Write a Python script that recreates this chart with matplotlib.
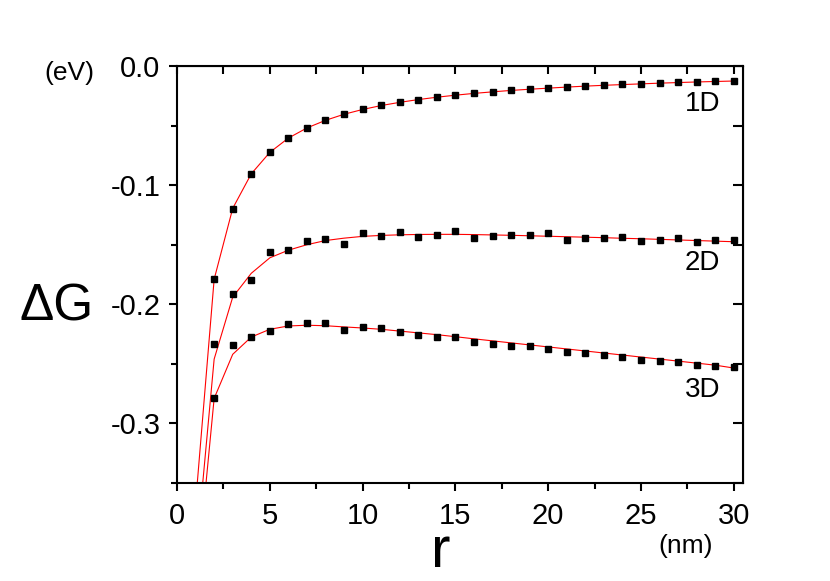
import matplotlib
matplotlib.use('Agg')
import matplotlib.pyplot as plt
from matplotlib.ticker import MultipleLocator, FormatStrFormatter

plt.rcParams['font.family'] = ['Liberation Sans', 'DejaVu Sans']
plt.rcParams['axes.unicode_minus'] = False

# data points (r = 2..30 nm)
r_pts = list(range(2, 31))
g1d_pts = [-0.179, -0.1204, -0.0905, -0.0723, -0.0602, -0.0518, -0.0454, -0.0403, -0.0364,
           -0.0331, -0.0305, -0.0283, -0.0261, -0.0244, -0.0230, -0.0216, -0.0204, -0.0196,
           -0.0185, -0.0176, -0.0168, -0.0160, -0.0154, -0.0149, -0.0143, -0.0137, -0.0132,
           -0.0129, -0.0126]
g2d_pts = [-0.233, -0.191, -0.1795, -0.156, -0.1546, -0.1465, -0.1454, -0.149, -0.140,
           -0.1431, -0.1392, -0.1434, -0.1415, -0.1387, -0.1445, -0.1431, -0.1417, -0.142,
           -0.1398, -0.1457, -0.1443, -0.1443, -0.1434, -0.1473, -0.146, -0.1445, -0.1479,
           -0.1457, -0.146]
g3d_pts = [-0.279, -0.2342, -0.2277, -0.2221, -0.2165, -0.216, -0.216, -0.2213, -0.2193,
           -0.2202, -0.2235, -0.226, -0.2272, -0.2272, -0.2319, -0.2333, -0.235, -0.235,
           -0.2378, -0.2403, -0.2409, -0.2426, -0.244, -0.2465, -0.2476, -0.2487, -0.2507,
           -0.2518, -0.2529]

# fitted curves (r = 1..30 nm)
r_fit = list(range(1, 31))
g1d_fit = [-0.367, -0.179, -0.1195, -0.0905, -0.0725, -0.0605, -0.052, -0.0456, -0.0405,
           -0.0365, -0.0332, -0.0305, -0.0282, -0.0262, -0.0245, -0.0230, -0.0217, -0.0205,
           -0.0195, -0.0186, -0.0177, -0.0169, -0.0162, -0.0156, -0.0150, -0.0144, -0.0139,
           -0.0134, -0.0130, -0.0126]
g2d_fit = [-0.415, -0.246, -0.194, -0.174, -0.161, -0.1546, -0.150, -0.1465, -0.1445,
           -0.143, -0.1422, -0.1417, -0.1414, -0.1413, -0.1413, -0.1415, -0.1418, -0.1421,
           -0.1425, -0.1429, -0.1433, -0.1437, -0.1441, -0.1446, -0.145, -0.1455, -0.146,
           -0.1465, -0.147, -0.1475]
g3d_fit = [-0.441, -0.279, -0.242, -0.2275, -0.221, -0.2182, -0.2176, -0.218, -0.219,
           -0.2199, -0.221, -0.2225, -0.224, -0.2255, -0.2272, -0.229, -0.2307, -0.2324,
           -0.2341, -0.2358, -0.2375, -0.2392, -0.2409, -0.2426, -0.2443, -0.246, -0.2477,
           -0.2494, -0.2511, -0.2535]

labels = ['1D', '2D', '3D']
label_x = [28.3, 28.3, 28.3]
label_y = [-0.032, -0.165, -0.272]

fig = plt.figure(figsize=(8.3, 5.81), dpi=100)
ax = fig.add_axes([0.2133, 0.1687, 0.6819, 0.7177])

for g_fit, g_pts in [(g1d_fit, g1d_pts), (g2d_fit, g2d_pts), (g3d_fit, g3d_pts)]:
    ax.plot(r_fit, g_fit, color='red', lw=0.8, zorder=2)
    ax.plot(r_pts, g_pts, 's', color='black', ms=4.5, zorder=3)

for lab, lx, ly in zip(labels, label_x, label_y):
    ax.text(lx, ly, lab, fontsize=20, ha='center', va='center')

ax.set_xlim(0, 30.5)
ax.set_ylim(-0.35, 0.0)
ax.xaxis.set_major_locator(MultipleLocator(5))
ax.xaxis.set_minor_locator(MultipleLocator(2.5))
ax.yaxis.set_major_locator(MultipleLocator(0.1))
ax.yaxis.set_minor_locator(MultipleLocator(0.05))
ax.yaxis.set_major_formatter(FormatStrFormatter('%.1f'))

for s in ax.spines.values():
    s.set_linewidth(1.5)
ax.tick_params(which='both', direction='out', width=1.5, labelsize=21,
               top=False, right=False)
ax.tick_params(which='major', length=6)
ax.tick_params(which='minor', length=4)
ax.tick_params(axis='y', pad=6)
ax.tick_params(axis='x', pad=8)

# inward ticks on top and right
ax_top = ax.secondary_xaxis('top')
ax_top.xaxis.set_major_locator(MultipleLocator(5))
ax_top.xaxis.set_minor_locator(MultipleLocator(2.5))
ax_top.tick_params(which='both', direction='in', width=1.5, labeltop=False)
ax_top.tick_params(which='major', length=6)
ax_top.tick_params(which='minor', length=6)
ax_right = ax.secondary_yaxis('right')
ax_right.yaxis.set_major_locator(MultipleLocator(0.1))
ax_right.yaxis.set_minor_locator(MultipleLocator(0.05))
ax_right.tick_params(which='both', direction='in', width=1.5, labelright=False)
ax_right.tick_params(which='major', length=7)
ax_right.tick_params(which='minor', length=7)

fig.text(69 / 830, 1 - 73 / 581, '(eV)', fontsize=19, ha='center', va='center')
fig.text(57 / 830, 1 - 307 / 581, 'ΔG', fontsize=37, ha='center', va='center')
fig.text(441 / 830, 1 - 567 / 581, 'r', fontsize=42, ha='center', va='baseline')
fig.text(686 / 830, 1 - 546 / 581, '(nm)', fontsize=19, ha='center', va='center')

fig.savefig('out.png', dpi=100)
